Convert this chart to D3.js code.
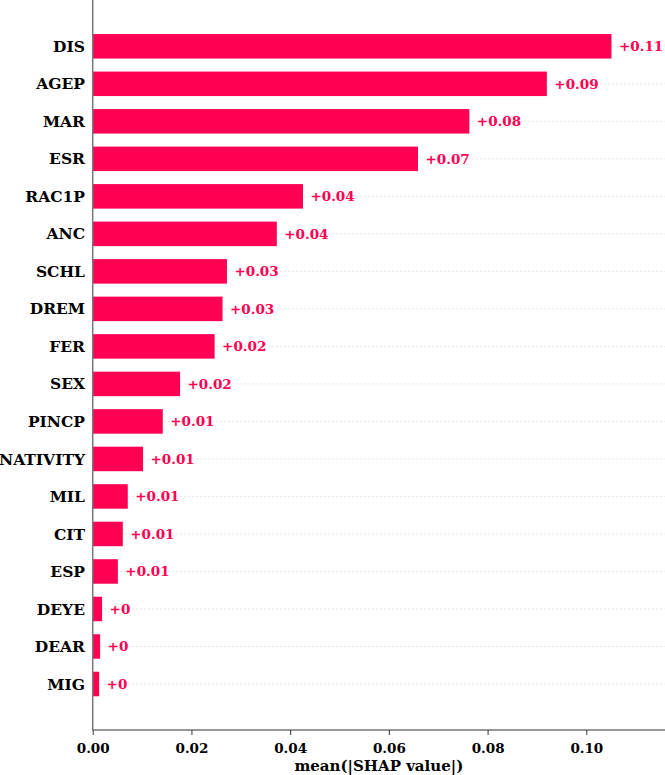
<!DOCTYPE html>
<html>
<head>
<meta charset="utf-8">
<script src="https://cdn.jsdelivr.net/npm/d3@7/dist/d3.min.js"></script>
<style>
  html, body { margin: 0; padding: 0; background: #fff; }
  svg { display: block; }
  text { font-family: "DejaVu Serif", serif; font-weight: bold; }
</style>
</head>
<body>
<svg id="chart" width="665" height="775"></svg>
<script>
const features = ["DIS","AGEP","MAR","ESR","RAC1P","ANC","SCHL","DREM","FER","SEX","PINCP","NATIVITY","MIL","CIT","ESP","DEYE","DEAR","MIG"];
const meanAbsShap = [0.1051,0.0920,0.0763,0.0659,0.0426,0.0373,0.0272,0.0263,0.0247,0.0177,0.0142,0.0102,0.0071,0.0061,0.0051,0.0019,0.0015,0.0013];
const xTicks = [0, 0.02, 0.04, 0.06, 0.08, 0.10];
const xTitle = "mean(|SHAP value|)";

const W = 665, H = 775;
const svg = d3.select("#chart");
const barColor = "#ff0052";
const fontFam = '"DejaVu Serif", serif';

const x = d3.scaleLinear().domain([0, 0.116]).range([92.7, 665.3]);
const y = d3.scaleLinear().domain([0, features.length - 1]).range([46.3, 684]);
const barH = 24.5;
const axisY = 730;

function fmt(v) {
  let s = v.toFixed(2).replace(/0+$/, "").replace(/\.$/, "");
  return "+" + s;
}

// dotted guide lines
svg.append("g").selectAll("line").data(features).join("line")
  .attr("x1", x(0)).attr("x2", W)
  .attr("y1", (d, i) => y(i)).attr("y2", (d, i) => y(i))
  .attr("stroke", "#cccccc").attr("stroke-width", 1)
  .attr("stroke-dasharray", "1,3");

// bars
svg.append("g").selectAll("rect").data(meanAbsShap).join("rect")
  .attr("x", x(0))
  .attr("y", (d, i) => y(i) - barH / 2)
  .attr("width", d => x(d) - x(0))
  .attr("height", barH)
  .attr("fill", barColor);

// value labels
svg.append("g").selectAll("text").data(meanAbsShap).join("text")
  .attr("x", d => x(d) + 7.5)
  .attr("y", (d, i) => y(i))
  .attr("dy", "0.35em")
  .attr("fill", barColor)
  .attr("font-size", 13.5)
  .text(d => fmt(d));

// feature labels
svg.append("g").selectAll("text").data(features).join("text")
  .attr("x", 85)
  .attr("y", (d, i) => y(i))
  .attr("dy", "0.36em")
  .attr("text-anchor", "end")
  .attr("fill", "#000")
  .attr("font-size", 15.5)
  .text(d => d);

// left spine
svg.append("line")
  .attr("x1", x(0)).attr("x2", x(0))
  .attr("y1", 0).attr("y2", axisY)
  .attr("stroke", "#777").attr("stroke-width", 1.5);

// bottom axis
const xAxis = d3.axisBottom(x).tickValues(xTicks).tickFormat(d3.format(".2f")).tickSize(5).tickPadding(8);
const gx = svg.append("g").attr("transform", `translate(0,${axisY})`).call(xAxis);
gx.select(".domain").attr("stroke", "#333").attr("stroke-width", 1).attr("d", `M${x(0)},0H${W}`);
gx.selectAll(".tick line").attr("stroke", "#333");
gx.selectAll(".tick text").attr("font-size", 13.5).attr("fill", "#000")
  .style("font-family", fontFam).style("font-weight", "bold");

// axis title
svg.append("text")
  .attr("x", (x(0) + W) / 2)
  .attr("y", 771)
  .attr("text-anchor", "middle")
  .attr("font-size", 15)
  .attr("fill", "#000")
  .text(xTitle);
</script>
</body>
</html>
